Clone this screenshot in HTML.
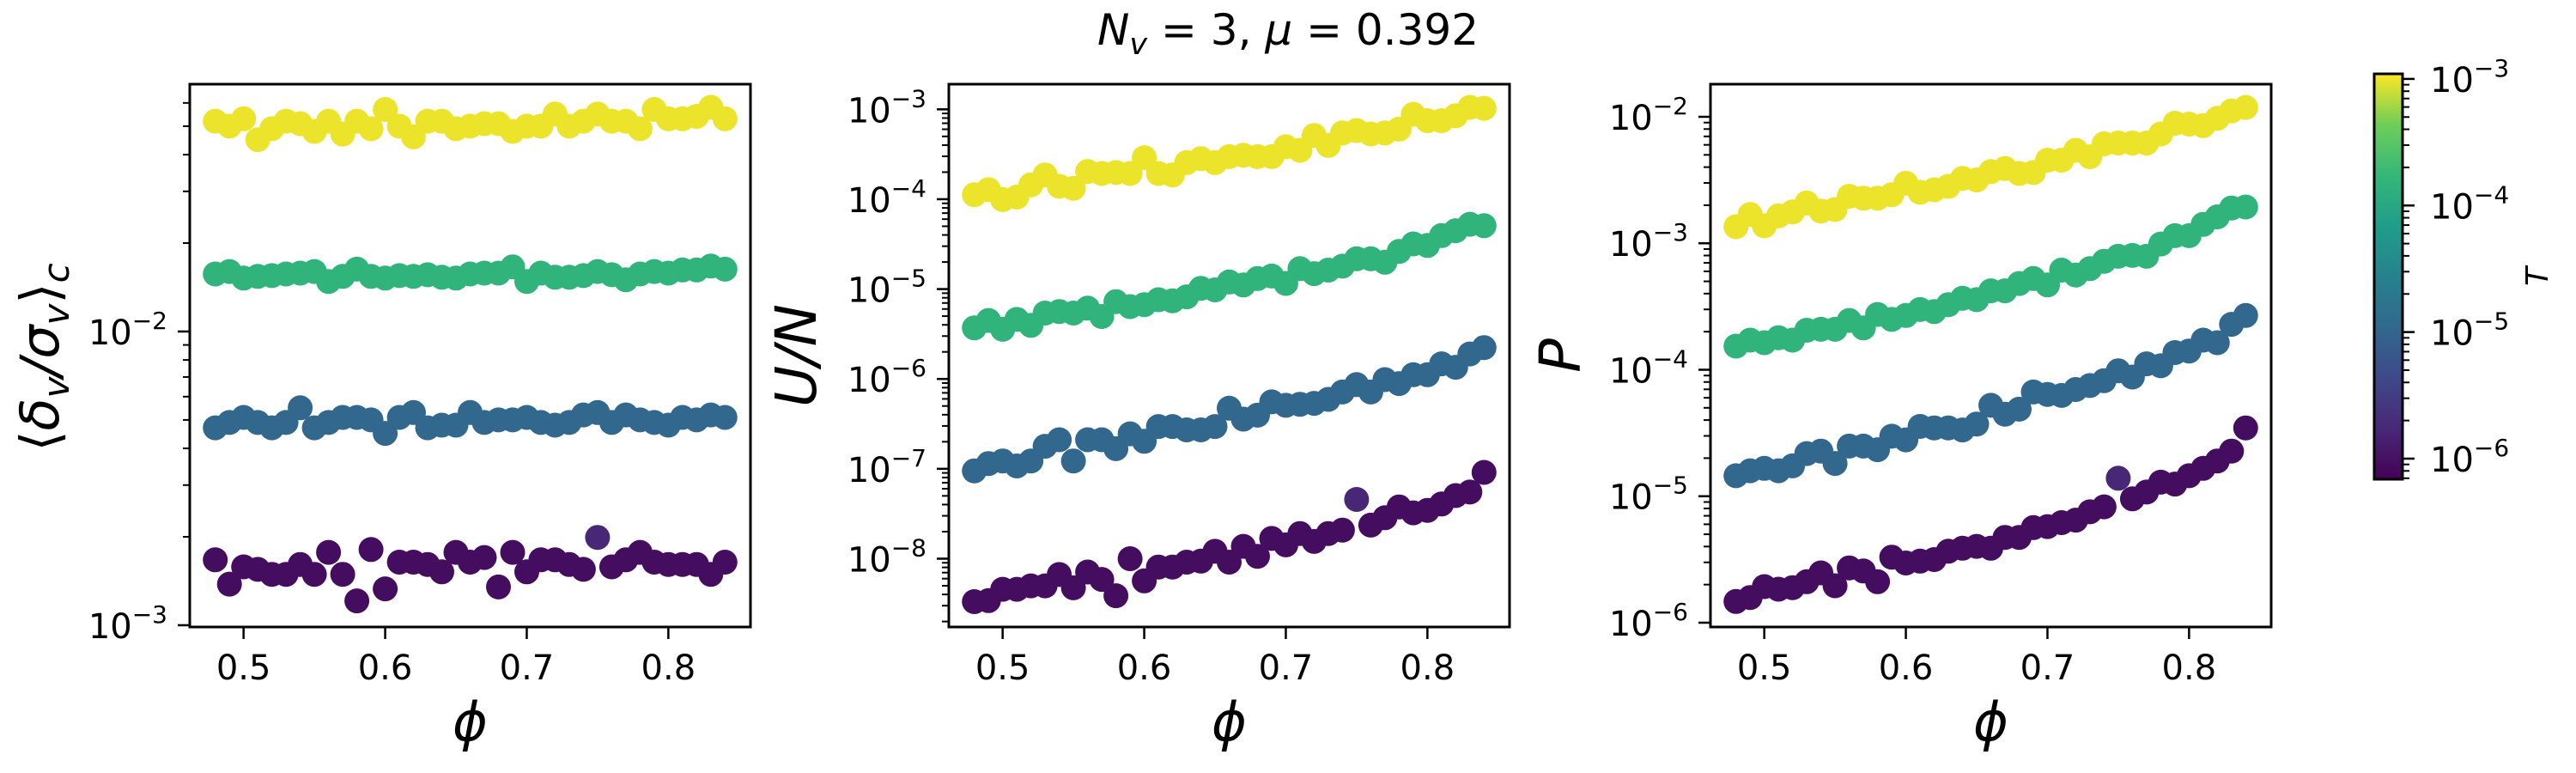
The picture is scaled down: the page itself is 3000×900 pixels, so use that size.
<!DOCTYPE html>
<html><head><meta charset="utf-8"><style>
html,body{margin:0;padding:0;background:#fff;}
svg{display:block;font-family:"DejaVu Sans","Liberation Sans",sans-serif;}
</style></head><body>
<svg id="fig" width="3000" height="900" viewBox="0 0 3000 900" xmlns="http://www.w3.org/2000/svg">
<defs>
<linearGradient id="viridis" x1="0" y1="1" x2="0" y2="0">
<stop offset="0" stop-color="#440154"/><stop offset="0.125" stop-color="#482878"/><stop offset="0.25" stop-color="#3e4989"/><stop offset="0.375" stop-color="#31688e"/><stop offset="0.5" stop-color="#26828e"/><stop offset="0.625" stop-color="#1f9e89"/><stop offset="0.75" stop-color="#35b779"/><stop offset="0.875" stop-color="#6ece58"/><stop offset="1" stop-color="#fde725"/>
</linearGradient>
</defs>
<text x="1500" y="52" font-size="50" text-anchor="middle"><tspan font-style="italic">N</tspan><tspan font-style="italic" font-size="35" dy="11">v</tspan><tspan dy="-11"> = 3, </tspan><tspan font-style="italic">μ</tspan><tspan> = 0.392</tspan></text>
<g id="plots"></g>
</svg>
<script>
// ---- data ----
const phi = [0.48,0.49,0.50,0.51,0.52,0.53,0.54,0.55,0.56,0.57,0.58,0.59,0.60,0.61,0.62,0.63,0.64,0.65,0.66,0.67,0.68,0.69,0.70,0.71,0.72,0.73,0.74,0.75,0.76,0.77,0.78,0.79,0.80,0.81,0.82,0.83,0.84];
const xTicks = [0.5,0.6,0.7,0.8];
const xTickLabels = ["0.5","0.6","0.7","0.8"];
const seriesTLog = [-3,-4,-5,-6];
const purpleTLog = [-6,-6,-6,-6,-6,-6,-6,-6,-6,-6,-6,-6,-6,-6,-6,-6,-6,-6,-6,-6,-6,-6,-6,-6,-6,-6,-6,-5.75,-6,-6,-6,-6,-6,-6,-6,-6,-6];
// panel 1: <delta/sigma>_c values
const dsYellow = [0.052,0.050,0.053,0.045,0.049,0.052,0.051,0.048,0.052,0.047,0.052,0.049,0.057,0.050,0.046,0.052,0.052,0.049,0.050,0.051,0.051,0.048,0.050,0.050,0.055,0.050,0.052,0.055,0.052,0.052,0.049,0.057,0.053,0.053,0.054,0.058,0.053];
const dsGreen = [0.0157,0.0160,0.0152,0.0154,0.0155,0.0157,0.0158,0.0160,0.0148,0.0154,0.0163,0.0154,0.0152,0.0155,0.0154,0.0156,0.0153,0.0152,0.0157,0.0158,0.0158,0.0166,0.0148,0.0158,0.0153,0.0153,0.0155,0.0160,0.0156,0.0150,0.0157,0.0160,0.0158,0.0162,0.0162,0.0167,0.0163];
const dsBlue = [0.0047,0.0049,0.0051,0.0049,0.0047,0.0049,0.0055,0.0047,0.0049,0.0051,0.0051,0.0050,0.0045,0.0051,0.0053,0.0047,0.0048,0.0048,0.0053,0.0049,0.0050,0.0050,0.0051,0.0049,0.0048,0.0049,0.0052,0.0053,0.0049,0.0052,0.0050,0.0049,0.0048,0.0051,0.0050,0.0052,0.0051];
const dsPurple = [0.00167,0.00138,0.00158,0.00155,0.00149,0.00149,0.00161,0.00149,0.00177,0.00149,0.00121,0.00181,0.00133,0.00164,0.00164,0.00161,0.00152,0.00177,0.00164,0.00170,0.00135,0.00177,0.00152,0.00167,0.00167,0.00161,0.00155,0.00199,0.00158,0.00167,0.00177,0.00164,0.00161,0.00161,0.00161,0.00149,0.00164];
// panel 2: log10(U/N)
const uLogYellow = [-3.950,-3.895,-4.004,-3.977,-3.840,-3.730,-3.856,-3.878,-3.692,-3.714,-3.703,-3.714,-3.538,-3.714,-3.730,-3.593,-3.549,-3.593,-3.527,-3.510,-3.527,-3.527,-3.417,-3.456,-3.291,-3.401,-3.263,-3.236,-3.274,-3.263,-3.220,-3.055,-3.126,-3.126,-3.071,-2.978,-2.989];
const uLogGreen = [-5.431,-5.349,-5.448,-5.338,-5.404,-5.267,-5.250,-5.267,-5.212,-5.305,-5.140,-5.195,-5.173,-5.119,-5.130,-5.086,-4.992,-5.009,-4.921,-4.954,-4.883,-4.855,-4.937,-4.773,-4.828,-4.789,-4.745,-4.663,-4.663,-4.701,-4.581,-4.498,-4.515,-4.405,-4.350,-4.279,-4.295];
const uLogBlue = [-7.023,-6.941,-6.913,-6.968,-6.913,-6.749,-6.677,-6.913,-6.677,-6.677,-6.776,-6.611,-6.694,-6.529,-6.529,-6.567,-6.567,-6.529,-6.326,-6.447,-6.403,-6.255,-6.293,-6.282,-6.271,-6.227,-6.145,-6.063,-6.145,-6.008,-6.052,-5.953,-5.953,-5.832,-5.870,-5.722,-5.651];
const uLogPurple = [-8.478,-8.467,-8.340,-8.340,-8.302,-8.302,-8.176,-8.324,-8.148,-8.231,-8.412,-8.000,-8.247,-8.093,-8.093,-8.038,-8.027,-7.918,-8.038,-7.863,-7.973,-7.775,-7.846,-7.720,-7.808,-7.720,-7.682,-7.341,-7.627,-7.544,-7.424,-7.490,-7.462,-7.391,-7.298,-7.259,-7.040];
// panel 3: log10(P)
const pLogYellow = [-2.869,-2.772,-2.862,-2.784,-2.752,-2.682,-2.745,-2.733,-2.628,-2.643,-2.643,-2.616,-2.526,-2.597,-2.577,-2.550,-2.487,-2.499,-2.433,-2.409,-2.448,-2.441,-2.343,-2.343,-2.265,-2.316,-2.214,-2.207,-2.207,-2.207,-2.136,-2.051,-2.058,-2.070,-2.012,-1.953,-1.926];
const pLogGreen = [-3.813,-3.766,-3.786,-3.747,-3.766,-3.688,-3.680,-3.680,-3.610,-3.669,-3.563,-3.602,-3.571,-3.524,-3.540,-3.485,-3.435,-3.446,-3.376,-3.376,-3.318,-3.279,-3.329,-3.212,-3.251,-3.201,-3.142,-3.103,-3.096,-3.103,-3.006,-2.940,-2.940,-2.850,-2.791,-2.721,-2.713];
const pLogBlue = [-4.838,-4.799,-4.780,-4.799,-4.760,-4.663,-4.643,-4.741,-4.604,-4.604,-4.632,-4.526,-4.554,-4.448,-4.460,-4.460,-4.476,-4.429,-4.281,-4.351,-4.312,-4.176,-4.195,-4.203,-4.156,-4.125,-4.086,-4.008,-4.058,-3.953,-3.969,-3.864,-3.852,-3.766,-3.786,-3.641,-3.571];
const pLogPurple = [-5.832,-5.801,-5.715,-5.735,-5.723,-5.676,-5.606,-5.708,-5.567,-5.591,-5.676,-5.482,-5.528,-5.513,-5.501,-5.435,-5.411,-5.396,-5.411,-5.326,-5.326,-5.248,-5.240,-5.209,-5.189,-5.123,-5.084,-4.858,-5.021,-4.967,-4.889,-4.904,-4.838,-4.780,-4.721,-4.643,-4.460];
const cbarTicks = [-3,-4,-5,-6];

// ---- helpers ----
const NS = "http://www.w3.org/2000/svg";
const root = document.getElementById('plots');
function mk(tag, attrs, parent){ const e=document.createElementNS(NS,tag); for(const k in attrs) e.setAttribute(k,attrs[k]); (parent||root).appendChild(e); return e; }
const vstops=[[0,[68,1,84]],[0.125,[72,40,120]],[0.25,[62,73,137]],[0.375,[49,104,142]],[0.5,[38,130,142]],[0.625,[31,158,137]],[0.75,[53,183,121]],[0.875,[110,206,88]],[1,[253,231,37]]];
function viridis(t){ t=Math.max(0,Math.min(1,t)); for(let i=1;i<vstops.length;i++){ if(t<=vstops[i][0]){ const a=vstops[i-1],b=vstops[i]; const f=(t-a[0])/(b[0]-a[0]); const c=a[1].map((v,j)=>Math.round(v+(b[1][j]-v)*f)); return `rgb(${c[0]},${c[1]},${c[2]})`; } } return 'rgb(253,231,37)'; }
// piecewise mapping from log T to colormap fraction (as observed)
const cbMin=-6.163, cbMax=-2.96;
const tFracLog = [-6.163,-6,-5,-4,-3,-2.96];
const tFrac = [0,0.04,0.37,0.73,0.985,1];
function tColor(lt){
  for(let i=1;i<tFracLog.length;i++){ if(lt<=tFracLog[i]){ const f=(lt-tFracLog[i-1])/(tFracLog[i]-tFracLog[i-1]); return viridis(tFrac[i-1]+(tFrac[i]-tFrac[i-1])*f); } }
  return viridis(1);
}

const xMin=0.462, xMax=0.858, pTop=98, pBot=730, W=653;
function drawPanel(idx, left, yLo, yHi, series, ylabel){
  const g = mk('g',{});
  
  
  const xs = v => left + (v-xMin)/(xMax-xMin)*W;
  const ys = lv => pBot - (lv-yLo)/(yHi-yLo)*(pBot-pTop);
  series.forEach((s,si)=>{
    const sg = mk('g',{},g);
    
    
    s.vals.forEach((v,i)=>{
      const lt = si===3 ? purpleTLog[i] : seriesTLog[si];
      const c = mk('circle',{cx:xs(phi[i]).toFixed(1),cy:ys(s.log?v:Math.log10(v)).toFixed(1),r:14.5,fill:tColor(lt)},sg);
      
      
    });
  });
  const fr = mk('rect',{x:left,y:pTop,width:W,height:pBot-pTop,fill:'none',stroke:'#000','stroke-width':3},g);
  
  
  xTicks.forEach((t,i)=>{
    const x=xs(t);
    mk('line',{x1:x,x2:x,y1:pBot,y2:pBot+14,stroke:'#000','stroke-width':2.5},g);
    const tl = mk('text',{x:x,y:791,'font-size':40,'text-anchor':'middle'},g);
    tl.textContent = xTickLabels[i];
    
    
  });
  for(let d=Math.floor(yLo); d<=Math.ceil(yHi); d++){
    for(let m=1;m<10;m++){
      const lv=d+Math.log10(m);
      if(lv<yLo-1e-6||lv>yHi+1e-6) continue;
      const y=ys(lv);
      mk('line',{x1:left,x2:left-(m===1?14:8),y1:y,y2:y,stroke:'#000','stroke-width':m===1?2.5:2},g);
      if(m===1){
        const tl = mk('text',{x:left-26,y:y+15,'font-size':40,'text-anchor':'end'},g);
        
        
        const a=mk('tspan',{},tl); a.textContent='10';
        const b=mk('tspan',{'font-size':28,dy:-18},tl); b.textContent='−'+(-d);
      }
    }
  }
  const xl = mk('text',{x:left+W/2,y:862,'font-size':62,'font-style':'italic','text-anchor':'middle'},g);
  xl.textContent='ϕ';
  
  
  ylabel(g);
}

drawPanel(0, 221, -3.006, -1.158, [
  {vals:dsYellow},{vals:dsGreen},{vals:dsBlue},{vals:dsPurple}
], g=>{
  const t = mk('text',{transform:'translate(68,416) rotate(-90)','font-size':62,'font-style':'italic','text-anchor':'middle'},g);
  
  
  t.innerHTML='<tspan font-style="normal">⟨</tspan>δ<tspan font-size="42" dy="12">v</tspan><tspan dy="-12">/σ</tspan><tspan font-size="42" dy="12">v</tspan><tspan dy="-12" font-style="normal">⟩</tspan><tspan font-size="42" dy="12">c</tspan>';
});
drawPanel(1, 1105, -8.76, -2.72, [
  {vals:uLogYellow,log:true},{vals:uLogGreen,log:true},{vals:uLogBlue,log:true},{vals:uLogPurple,log:true}
], g=>{
  const t = mk('text',{transform:'translate(950,414) rotate(-90)','font-size':66,'font-style':'italic','text-anchor':'middle'},g);
  t.textContent='U/N';
  
  
});
drawPanel(2, 1992, -6.034, -1.742, [
  {vals:pLogYellow,log:true},{vals:pLogGreen,log:true},{vals:pLogBlue,log:true},{vals:pLogPurple,log:true}
], g=>{
  const t = mk('text',{transform:'translate(1840,414) rotate(-90)','font-size':66,'font-style':'italic','text-anchor':'middle'},g);
  t.textContent='P';
  
  
});

(function(){
  const g = mk('g',{});
  
  
  const top=86, bot=558, l=2765, r=2798;
  const ys = lv => bot - (lv-cbMin)/(cbMax-cbMin)*(bot-top);
  mk('rect',{x:l,y:top,width:r-l,height:bot-top,fill:'url(#viridis)',stroke:'#000','stroke-width':3},g);
  for(let d=-7; d<=-3; d++){
    for(let m=1;m<10;m++){
      const lv=d+Math.log10(m);
      if(lv<cbMin||lv>cbMax) continue;
      const y=ys(lv);
      mk('line',{x1:r,x2:r+(m===1?14:8),y1:y,y2:y,stroke:'#000','stroke-width':m===1?2.5:2},g);
    }
  }
  cbarTicks.forEach(d=>{
    const tl = mk('text',{x:2830,y:ys(d)+15,'font-size':40},g);
    
    
    const a=mk('tspan',{},tl); a.textContent='10';
    const b=mk('tspan',{'font-size':28,dy:-18},tl); b.textContent='−'+(-d);
  });
  const t = mk('text',{transform:'translate(2967,322) rotate(-90)','font-size':36,'font-style':'italic','text-anchor':'middle'},g);
  t.textContent='T';
  
  
})();
</script>
</body></html>
